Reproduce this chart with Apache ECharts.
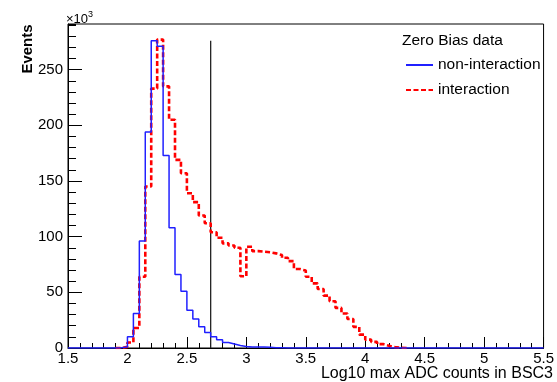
<!DOCTYPE html>
<html>
<head>
<meta charset="utf-8">
<script src="https://cdn.jsdelivr.net/npm/echarts@6/dist/echarts.min.js"></script>
<style>
html, body { margin: 0; padding: 0; background: #fff; }
#chart { width: 557px; height: 382px; }
</style>
</head>
<body>
<div id="chart"></div>
<script>
// histogram bins: 0.05 wide, first bin starts at 1.5 (values in 10^3 events)
const binStart = 1.5
const binWidth = 0.05
const nonInteraction = [
  0, 0, 0, 0, 0, 0, 0, 0, 0.3, 1,
  10, 31, 96, 194, 276, 271, 173, 108, 66, 51,
  34, 26, 19, 14, 10, 7.5, 5, 3.6, 2.2, 1.3,
  1.0, 0.9, 0.8, 0.7, 0.3, 0.2, 0.1, 0.1, 0.1, 0.1,
  0.1, 0.1, 0.1, 0, 0, 0, 0, 0, 0, 0,
  0, 0, 0, 0, 0, 0, 0, 0, 0, 0,
  0, 0, 0, 0, 0, 0, 0, 0, 0, 0,
  0, 0, 0, 0, 0, 0, 0, 0, 0, 0
]
const interaction = [
  0, 0, 0, 0, 0, 0, 0, 0, 0, 1,
  5, 18, 64, 145, 233, 277, 235, 205, 169, 157,
  139, 131, 119, 112, 104, 99, 94, 92, 90, 64.5,
  91, 87, 86.5, 86, 85, 83.5, 81, 78, 71, 69.5,
  64, 58, 53, 47, 42, 36, 31, 26, 19, 12,
  7.5, 5.5, 3.5, 2, 0.8, 0.3, 0, 0, 0, 0,
  0, 0, 0, 0, 0, 0, 0, 0, 0, 0,
  0, 0, 0, 0, 0, 0, 0, 0, 0, 0
]
// vertical cut line
const cutX = 2.7
const cutTop = 276

const xMin = 1.5, xMax = 5.5, xStep = 0.5
const yMax = 291, yStep = 50, yMinorStep = 10

const font = "'Liberation Sans', Arial, Helvetica, sans-serif"

// turn bin values into step points (left edges + closing edge)
function toSteps(values, trim) {
  let first = 0, last = values.length - 1
  if (trim) {
    while (first < values.length && values[first] === 0) first++
    while (last > 0 && values[last] === 0) last--
    first = Math.max(0, first - 1)
    last = Math.min(values.length - 1, last + 1)
  }
  const pts = []
  for (let i = first; i <= last; i++) {
    pts.push([binStart + i * binWidth, values[i]])
  }
  pts.push([binStart + (last + 1) * binWidth, values[last]])
  return pts
}

const chart = echarts.init(document.getElementById('chart'), null, { renderer: 'canvas' })

const option = {
  animation: false,
  backgroundColor: '#fff',
  textStyle: { fontFamily: font },
  grid: {
    left: 68, right: 6, top: 24, bottom: 34,
    show: true, borderColor: '#000', borderWidth: 1
  },
  title: {
    text: 'Log10 max ADC counts in BSC3',
    right: 4, top: 366, padding: 0,
    textStyle: { fontSize: 16, fontWeight: 'normal', color: '#000', fontFamily: font }
  },
  legend: {
    data: ['non-interaction', 'interaction'],
    orient: 'vertical',
    left: 405, top: 57, padding: 0,
    itemWidth: 27, itemHeight: 14, itemGap: 9,
    itemStyle: { opacity: 0 },
    selectedMode: false,
    textStyle: { fontSize: 15.5, color: '#000', fontFamily: font }
  },
  xAxis: {
    type: 'value',
    min: xMin, max: xMax, interval: xStep,
    axisLine: { lineStyle: { color: '#000', width: 1 } },
    axisTick: { inside: true, length: 11, lineStyle: { color: '#000' } },
    minorTick: { show: true, splitNumber: 5, length: 5, lineStyle: { color: '#000' } },
    splitLine: { show: false },
    axisLabel: { margin: 3, fontSize: 15, color: '#000', fontFamily: font }
  },
  yAxis: [
    {
      type: 'value', position: 'left',
      min: 0, max: yMax, interval: yMinorStep,
      axisLine: { show: true, lineStyle: { color: '#000', width: 1 } },
      axisTick: { show: true, inside: true, length: 8, lineStyle: { color: '#000' } },
      axisLabel: { show: false },
      splitLine: { show: false }
    },
    {
      type: 'value', position: 'left',
      min: 0, max: yMax, interval: yStep,
      axisLine: { show: false },
      axisTick: { show: true, inside: true, length: 14, lineStyle: { color: '#000' } },
      axisLabel: { margin: 5, fontSize: 15, color: '#000', showMaxLabel: false, fontFamily: font },
      splitLine: { show: false }
    }
  ],
  graphic: [
    {
      type: 'text', x: 27.5, y: 49, rotation: Math.PI / 2,
      style: { text: 'Events', fill: '#000', font: 'bold 15px ' + font, align: 'center', verticalAlign: 'middle' }
    },
    {
      type: 'text', x: 66, y: 19,
      style: { text: '×10', fill: '#000', font: '13px ' + font, align: 'left', verticalAlign: 'middle' }
    },
    {
      type: 'text', x: 88, y: 14.5,
      style: { text: '3', fill: '#000', font: '9px ' + font, align: 'left', verticalAlign: 'middle' }
    },
    {
      type: 'text', x: 402, y: 41,
      style: { text: 'Zero Bias data', fill: '#000', font: '15.5px ' + font, align: 'left', verticalAlign: 'middle' }
    }
  ],
  series: [
    {
      name: 'interaction',
      type: 'line', step: 'end', symbol: 'none',
      yAxisIndex: 0,
      data: toSteps(interaction, true),
      color: '#ff0000',
      lineStyle: { color: '#ff0000', width: 2.6, type: [5, 2.5] },
      z: 3
    },
    {
      name: 'non-interaction',
      type: 'line', step: 'end', symbol: 'none',
      yAxisIndex: 0,
      data: toSteps(nonInteraction, false),
      color: '#2020ff',
      lineStyle: { color: '#2020ff', width: 1.5 },
      z: 4
    },
    {
      name: 'cut',
      type: 'line', symbol: 'none', silent: true,
      yAxisIndex: 0,
      data: [[cutX, 0], [cutX, cutTop]],
      lineStyle: { color: '#222', width: 1.3 },
      z: 2
    }
  ]
}

chart.setOption(option)
</script>
</body>
</html>
